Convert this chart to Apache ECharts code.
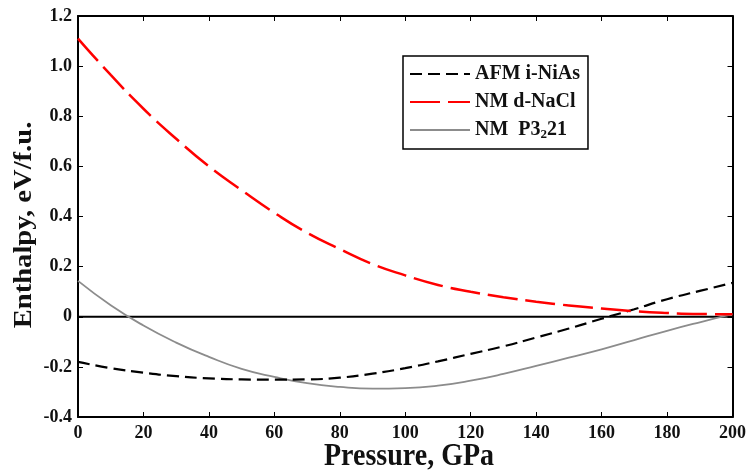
<!DOCTYPE html>
<html><head><meta charset="utf-8">
<script src="https://cdn.jsdelivr.net/npm/echarts@6/dist/echarts.min.js"></script>
<style>html,body{margin:0;padding:0;background:#fff}#c{width:749px;height:472px}</style>
</head><body><div id="c"></div>
<script>
var pressure = [0,10,20,30,40,50,60,70,80,90,100,110,120,130,140,150,160,170,180,190,200];
var afmNiAs = [-0.18,-0.205,-0.223,-0.237,-0.246,-0.25,-0.251,-0.25,-0.243,-0.227,-0.205,-0.178,-0.148,-0.118,-0.083,-0.047,-0.008,0.03,0.07,0.103,0.135];
var nmNaCl = [1.11,0.965,0.83,0.71,0.60,0.505,0.415,0.335,0.27,0.21,0.165,0.127,0.10,0.078,0.06,0.045,0.033,0.022,0.015,0.011,0.01];
var nmP3221 = [0.143,0.046,-0.035,-0.103,-0.16,-0.208,-0.24,-0.265,-0.28,-0.287,-0.285,-0.275,-0.255,-0.228,-0.196,-0.163,-0.13,-0.093,-0.056,-0.022,0.01];
var seriesNames = ['AFM i-NiAs','NM d-NaCl','NM  P3221'];
var xTicks = {min:0,max:200,interval:20};
var yTicks = {min:-0.4,max:1.2,interval:0.2};

function pairs(v){return pressure.map(function(p,i){return [p,v[i]];});}
var font = '"Liberation Serif","Times New Roman",serif';
var axisCommon = function(extra){
  var o = {type:'value',
    axisLine:{show:true,onZero:false,lineStyle:{color:'#000',width:2}},
    axisTick:{show:true,inside:true,length:5,lineStyle:{color:'#000',width:1}},
    splitLine:{show:false}};
  for (var k in extra) o[k]=extra[k];
  return o;
};
var chart = echarts.init(document.getElementById('c'));
chart.setOption({
  animation:false,
  backgroundColor:'#fff',
  grid:{left:78,right:16,top:16,bottom:55},
  xAxis:[axisCommon({position:'bottom',min:xTicks.min,max:xTicks.max,interval:xTicks.interval,
      axisLabel:{color:'#111',fontFamily:font,fontWeight:'bold',fontSize:18,margin:7}}),
    axisCommon({position:'top',min:xTicks.min,max:xTicks.max,interval:xTicks.interval,
      axisLabel:{show:false}})],
  yAxis:[axisCommon({position:'left',min:yTicks.min,max:yTicks.max,interval:yTicks.interval,
      axisLabel:{color:'#111',fontFamily:font,fontWeight:'bold',fontSize:18,margin:6,
        formatter:function(v){v=Math.round(v*10)/10; return v===0?'0':v.toFixed(1);}}}),
    axisCommon({position:'right',min:yTicks.min,max:yTicks.max,interval:yTicks.interval,
      axisLabel:{show:false}})],
  legend:{orient:'vertical',left:403,top:56,data:seriesNames,
    itemWidth:60,itemHeight:18,itemGap:8,
    itemStyle:{opacity:0},
    borderColor:'#000',borderWidth:1.5,borderRadius:0,padding:[8,8,8,6],
    formatter:function(n){
      if (n===seriesNames[2]) return '{a|NM  P3}{s|2}{a|21}';
      return '{a|'+n+'}';
    },
    textStyle:{color:'#111',fontFamily:font,fontWeight:'bold',fontSize:20,
      rich:{a:{color:'#111',fontFamily:font,fontWeight:'bold',fontSize:20},
            s:{color:'#111',fontFamily:font,fontWeight:'bold',fontSize:13,padding:[9,0,0,0]}}}},
  graphic:[
    {type:'text',x:24,y:225,rotation:Math.PI/2,scaleX:1.1,style:{text:'Enthalpy, eV/f.u.',fill:'#111',
      font:'bold 26px '+font,textAlign:'center',textVerticalAlign:'middle'}},
    {type:'text',x:409,y:457,scaleY:1.1,style:{text:'Pressure, GPa',fill:'#111',
      font:'bold 28px '+font,textAlign:'center',textVerticalAlign:'middle'}}
  ],
  series:[
    {name:'zero',type:'line',data:[[0,0],[200,0]],symbol:'none',silent:true,
      lineStyle:{color:'#000',width:2},z:1},
    {name:seriesNames[0],type:'line',data:pairs(afmNiAs),symbol:'none',smooth:true,
      lineStyle:{color:'#000',width:2.2,type:[12,6]},itemStyle:{color:'#000'},z:3},
    {name:seriesNames[1],type:'line',data:pairs(nmNaCl),symbol:'none',smooth:true,
      lineStyle:{color:'#ff0000',width:2.5,type:[30,8]},itemStyle:{color:'#ff0000'},z:3},
    {name:seriesNames[2],type:'line',data:pairs(nmP3221),symbol:'none',smooth:true,
      lineStyle:{color:'#8c8c8c',width:1.8},itemStyle:{color:'#8c8c8c'},z:2}
  ]
});
</script></body></html>
